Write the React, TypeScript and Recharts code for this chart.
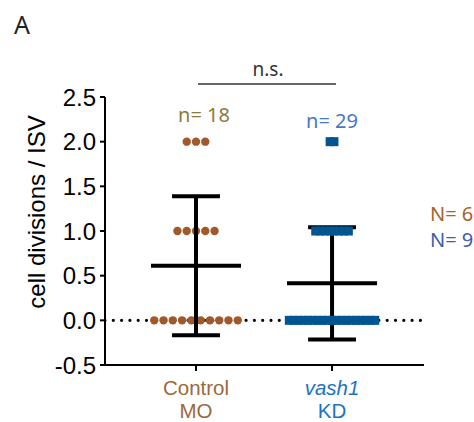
import React from 'react';
import { ScatterChart, Scatter, XAxis, YAxis } from 'recharts';

// ---- data ----
const categories = ['Control', 'vash1'];
const categorySub = ['MO', 'KD'];
const controlValues = [0, 0, 0, 0, 0, 0, 0, 0, 0, 0, 1, 1, 1, 1, 1, 2, 2, 2];
const vashValues = [0, 0, 0, 0, 0, 0, 0, 0, 0, 0, 0, 0, 0, 0, 0, 0, 0, 0, 0, 1, 1, 1, 1, 1, 1, 1, 1, 2, 2];
const yTicks = [-0.5, 0, 0.5, 1, 1.5, 2, 2.5];
const nLabels = ['n= 18', 'n= 29'];
const bigNLabels = ['N= 6', 'N= 9'];

// ---- style ----
const BROWN_DOT = '#a0592b';
const BLUE_SQ = '#035591';
const BROWN_TXT = '#9a6a3e';
const BLUE_TXT = '#1e73be';
const X_DOMAIN: [number, number] = [0.331, 2.676];

// stats
const mean = (a: number[]) => a.reduce((s, v) => s + v, 0) / a.length;
const sd = (a: number[]) => {
  const m = mean(a);
  return Math.sqrt(a.reduce((s, v) => s + (v - m) * (v - m), 0) / (a.length - 1));
};

// spread points of the same value horizontally around the group center
function spread(values: number[], center: number, step: number) {
  const counts: Record<string, number> = {};
  values.forEach((v) => (counts[v] = (counts[v] || 0) + 1));
  const seen: Record<string, number> = {};
  return values.map((v) => {
    const i = seen[v] || 0;
    seen[v] = i + 1;
    const n = counts[v];
    return { x: center + (i - (n - 1) / 2) * step, y: v };
  });
}

const controlPts = spread(controlValues, 1, 0.0682);
const vashPts = spread(vashValues, 2, 0.0353);

function meanLine(values: number[], center: number) {
  const m = mean(values);
  return [
    { x: center - 0.331, y: m },
    { x: center + 0.331, y: m },
  ];
}
function sdBar(values: number[], center: number) {
  const m = mean(values);
  const s = sd(values);
  const c = 0.176;
  return [
    { x: center - c, y: m + s },
    { x: center + c, y: m + s },
    { x: center, y: m + s },
    { x: center, y: m - s },
    { x: center - c, y: m - s },
    { x: center + c, y: m - s },
  ];
}
const zeroLine = [
  { x: X_DOMAIN[0], y: 0 },
  { x: 2.665, y: 0 },
];

const Empty = () => <g />;
const Dot = (p: any) => <circle cx={p.cx} cy={p.cy} r={4.2} fill={BROWN_DOT} />;
const Sq = (p: any) => <rect x={p.cx - 4} y={p.cy - 4.5} width={8} height={9} fill={BLUE_SQ} />;

const XTick = (p: any) => {
  const idx = p.payload.value - 1;
  const col = idx === 0 ? BROWN_TXT : BLUE_TXT;
  return (
    <g>
      <text x={p.x} y={p.y + 22} textAnchor="middle" fill={col} fontSize={20.5}
        fontFamily="Liberation Sans, Arial, sans-serif" fontStyle={idx === 1 ? 'italic' : 'normal'}>
        {categories[idx]}
      </text>
      <text x={p.x} y={p.y + 45} textAnchor="middle" fill={col} fontSize={20.5}
        fontFamily="Liberation Sans, Arial, sans-serif">
        {categorySub[idx]}
      </text>
    </g>
  );
};

const lineStyle = { stroke: '#000', strokeWidth: 4 };

export default function App() {
  return (
    <div style={{ position: 'absolute', left: 0, top: 0, width: 474, height: 422, background: '#fff' }}>
      <ScatterChart width={474} height={422} margin={{ top: 97, right: 50, bottom: 7, left: 45 }}>
        <XAxis type="number" dataKey="x" domain={X_DOMAIN} ticks={[1, 2]} allowDataOverflow
          height={50} tickSize={6} tickMargin={2}
          axisLine={{ stroke: '#000', strokeWidth: 2 }} tickLine={{ stroke: '#000', strokeWidth: 2 }}
          tick={<XTick />} />
        <YAxis type="number" dataKey="y" domain={[-0.5, 2.5]} ticks={yTicks} allowDataOverflow
          width={60} tickSize={5} tickMargin={4} interval={0}
          axisLine={{ stroke: '#000', strokeWidth: 2 }} tickLine={{ stroke: '#000', strokeWidth: 2 }}
          tick={{ fill: '#000', fontSize: 24, fontFamily: 'Liberation Sans, Arial, sans-serif' }}
          tickFormatter={(v: number) => v.toFixed(1)} />
        <Scatter data={zeroLine} isAnimationActive={false} shape={<Empty />} fill="#000"
          line={{ stroke: '#000', strokeWidth: 3.2, strokeDasharray: '0 8.3', strokeLinecap: 'round' }} />
        <Scatter data={controlPts} isAnimationActive={false} shape={<Dot />} fill={BROWN_DOT} />
        <Scatter data={meanLine(controlValues, 1)} isAnimationActive={false} shape={<Empty />} line={lineStyle} />
        <Scatter data={sdBar(controlValues, 1)} isAnimationActive={false} shape={<Empty />} line={lineStyle} />
        <Scatter data={meanLine(vashValues, 2)} isAnimationActive={false} shape={<Empty />} line={lineStyle} />
        <Scatter data={sdBar(vashValues, 2)} isAnimationActive={false} shape={<Empty />} line={lineStyle} />
        <Scatter data={vashPts} isAnimationActive={false} shape={<Sq />} fill={BLUE_SQ} />
      </ScatterChart>
      <svg width={474} height={422} style={{ position: 'absolute', left: 0, top: 0, pointerEvents: 'none' }}>
        <text x={14} y={34} fontSize={25} fill="#222" fontFamily="Noto Sans, Open Sans, sans-serif">A</text>
        <text transform="translate(45,212) rotate(-90)" textAnchor="middle" fontSize={24} fill="#000"
          fontFamily="Liberation Sans, Arial, sans-serif">cell divisions / ISV</text>
        <text x={268} y={76} textAnchor="middle" fontSize={19} fill="#333"
          fontFamily="Noto Sans, Open Sans, sans-serif">n.s.</text>
        <line x1={198} x2={336} y1={84} y2={84} stroke="#333" strokeWidth={1.5} />
        <text x={204} y={122} textAnchor="middle" fontSize={20} fill="#8c7a3c"
          fontFamily="Noto Sans, Open Sans, sans-serif">{nLabels[0]}</text>
        <text x={332} y={128} textAnchor="middle" fontSize={20} fill="#4a76c4"
          fontFamily="Noto Sans, Open Sans, sans-serif">{nLabels[1]}</text>
        <text x={430} y={221} fontSize={20} fill="#a5642c"
          fontFamily="Noto Sans, Open Sans, sans-serif">{bigNLabels[0]}</text>
        <text x={430} y={247} fontSize={20} fill="#3b5ea9"
          fontFamily="Noto Sans, Open Sans, sans-serif">{bigNLabels[1]}</text>
      </svg>
    </div>
  );
}
